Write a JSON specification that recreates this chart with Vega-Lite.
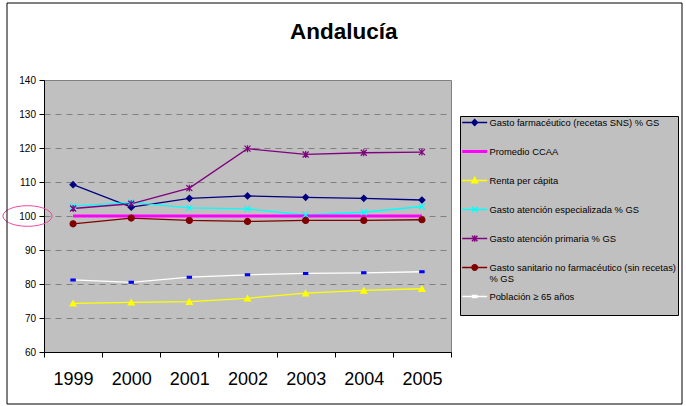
{
  "$schema": "https://vega.github.io/schema/vega-lite/v6.json",
  "autosize": {"type": "none"},
  "padding": {"left": 44, "top": 80, "right": 235, "bottom": 54},
  "width": 407,
  "height": 272,
  "background": "#FFFFFF",
  "config": {
    "font": "Liberation Sans",
    "view": {"fill": "#C0C0C0", "stroke": "#808080", "strokeWidth": 1}
  },
  "title": {
    "text": "Andalucía",
    "font": "Liberation Sans",
    "fontSize": 22.5,
    "fontWeight": "bold",
    "color": "#000000",
    "anchor": "middle",
    "frame": "bounds",
    "baseline": "alphabetic",
    "offset": -59,
    "dx": 2
  },
  "data": {
    "values": [
      {"series": "Gasto farmacéutico (recetas SNS) % GS", "year": "1999", "value": 109.2},
      {"series": "Gasto farmacéutico (recetas SNS) % GS", "year": "2000", "value": 102.6},
      {"series": "Gasto farmacéutico (recetas SNS) % GS", "year": "2001", "value": 105.2},
      {"series": "Gasto farmacéutico (recetas SNS) % GS", "year": "2002", "value": 105.9},
      {"series": "Gasto farmacéutico (recetas SNS) % GS", "year": "2003", "value": 105.5},
      {"series": "Gasto farmacéutico (recetas SNS) % GS", "year": "2004", "value": 105.2},
      {"series": "Gasto farmacéutico (recetas SNS) % GS", "year": "2005", "value": 104.7},
      {"series": "Promedio CCAA", "year": "1999", "value": 100},
      {"series": "Promedio CCAA", "year": "2000", "value": 100},
      {"series": "Promedio CCAA", "year": "2001", "value": 100},
      {"series": "Promedio CCAA", "year": "2002", "value": 100},
      {"series": "Promedio CCAA", "year": "2003", "value": 100},
      {"series": "Promedio CCAA", "year": "2004", "value": 100},
      {"series": "Promedio CCAA", "year": "2005", "value": 100},
      {"series": "Renta per cápita", "year": "1999", "value": 74.3},
      {"series": "Renta per cápita", "year": "2000", "value": 74.6},
      {"series": "Renta per cápita", "year": "2001", "value": 74.8},
      {"series": "Renta per cápita", "year": "2002", "value": 75.8},
      {"series": "Renta per cápita", "year": "2003", "value": 77.3},
      {"series": "Renta per cápita", "year": "2004", "value": 78.1},
      {"series": "Renta per cápita", "year": "2005", "value": 78.6},
      {"series": "Gasto atención especializada % GS", "year": "1999", "value": 102.9},
      {"series": "Gasto atención especializada % GS", "year": "2000", "value": 104.0},
      {"series": "Gasto atención especializada % GS", "year": "2001", "value": 102.4},
      {"series": "Gasto atención especializada % GS", "year": "2002", "value": 102.1},
      {"series": "Gasto atención especializada % GS", "year": "2003", "value": 100.3},
      {"series": "Gasto atención especializada % GS", "year": "2004", "value": 101.1},
      {"series": "Gasto atención especializada % GS", "year": "2005", "value": 102.8},
      {"series": "Gasto atención primaria % GS", "year": "1999", "value": 102.2},
      {"series": "Gasto atención primaria % GS", "year": "2000", "value": 103.6},
      {"series": "Gasto atención primaria % GS", "year": "2001", "value": 108.2},
      {"series": "Gasto atención primaria % GS", "year": "2002", "value": 119.8},
      {"series": "Gasto atención primaria % GS", "year": "2003", "value": 118.1},
      {"series": "Gasto atención primaria % GS", "year": "2004", "value": 118.6},
      {"series": "Gasto atención primaria % GS", "year": "2005", "value": 118.8},
      {"series": "Gasto sanitario no farmacéutico (sin recetas) % GS", "year": "1999", "value": 97.7},
      {"series": "Gasto sanitario no farmacéutico (sin recetas) % GS", "year": "2000", "value": 99.4},
      {"series": "Gasto sanitario no farmacéutico (sin recetas) % GS", "year": "2001", "value": 98.7},
      {"series": "Gasto sanitario no farmacéutico (sin recetas) % GS", "year": "2002", "value": 98.4},
      {"series": "Gasto sanitario no farmacéutico (sin recetas) % GS", "year": "2003", "value": 98.7},
      {"series": "Gasto sanitario no farmacéutico (sin recetas) % GS", "year": "2004", "value": 98.7},
      {"series": "Gasto sanitario no farmacéutico (sin recetas) % GS", "year": "2005", "value": 98.9},
      {"series": "Población ≥ 65 años", "year": "1999", "value": 81.2},
      {"series": "Población ≥ 65 años", "year": "2000", "value": 80.5},
      {"series": "Población ≥ 65 años", "year": "2001", "value": 82.0},
      {"series": "Población ≥ 65 años", "year": "2002", "value": 82.7},
      {"series": "Población ≥ 65 años", "year": "2003", "value": 83.1},
      {"series": "Población ≥ 65 años", "year": "2004", "value": 83.3},
      {"series": "Población ≥ 65 años", "year": "2005", "value": 83.6}
    ]
  },
  "encoding": {
    "x": {
      "field": "year",
      "type": "ordinal",
      "title": null,
      "scale": {"type": "band", "paddingInner": 0, "paddingOuter": 0},
      "axis": {
        "labelAngle": 0,
        "labelFontSize": 18,
        "labelColor": "#000000",
        "labelPadding": 13,
        "tickBand": "extent",
        "tickSize": 5,
        "tickColor": "#000000",
        "domainColor": "#000000",
        "grid": false
      }
    },
    "y": {
      "field": "value",
      "type": "quantitative",
      "title": null,
      "scale": {"domain": [60, 140], "nice": false, "zero": false},
      "axis": {
        "values": [60, 70, 80, 90, 100, 110, 120, 130, 140],
        "labelFontSize": 10,
        "labelColor": "#000000",
        "labelPadding": 3.5,
        "tickSize": 5,
        "tickColor": "#000000",
        "domainColor": "#000000",
        "grid": true,
        "gridColor": "#808080",
        "gridDash": [6, 5],
        "gridOpacity": 1
      }
    }
  },
  "layer": [
    {
      "transform": [{"filter": "datum.series !== 'Promedio CCAA'"}],
      "mark": {"type": "line", "strokeWidth": 1.3},
      "encoding": {
        "color": {
          "field": "series",
          "type": "nominal",
          "scale": {
            "domain": ["Gasto farmacéutico (recetas SNS) % GS", "Promedio CCAA", "Renta per cápita", "Gasto atención especializada % GS", "Gasto atención primaria % GS", "Gasto sanitario no farmacéutico (sin recetas) % GS", "Población ≥ 65 años"],
            "range": ["#000080", "#FF00FF", "#FFFF00", "#00FFFF", "#800080", "#800000", "#FFFFFF"]
          },
          "legend": {
            "title": null,
            "orient": "none",
            "legendX": 416,
            "legendY": 36,
            "padding": 2,
            "fillColor": "#C0C0C0",
            "strokeColor": "#000000",
            "labelFont": "Liberation Sans",
            "labelFontSize": 9.4,
            "labelColor": "#000000",
            "labelLimit": 300,
            "labelOffset": 10,
            "symbolOffset": 8,
            "symbolSize": 100,
            "clipHeight": 9,
            "rowPadding": 7,
            "labelExpr": "datum.label == 'Gasto sanitario no farmacéutico (sin recetas) % GS' ? ['Gasto sanitario no farmacéutico (sin recetas)', '% GS'] : [datum.label, '']",
            "encode": {
              "symbols": {
                "update": {
                  "shape": {"signal": "datum.value == 'Gasto farmacéutico (recetas SNS) % GS' ? 'M-2.5,0L2.5,0M0,-0.6L0.6,0L0,0.6L-0.6,0Z' : datum.value == 'Promedio CCAA' ? 'M-2.5,0L2.5,0' : datum.value == 'Renta per cápita' ? 'M-2.5,0L2.5,0M0,-0.65L0.6,0.45L-0.6,0.45Z' : datum.value == 'Gasto atención especializada % GS' ? 'M-2.5,0L2.5,0M-0.55,-0.55L0.55,0.55M-0.55,0.55L0.55,-0.55' : datum.value == 'Gasto atención primaria % GS' ? 'M-2.5,0L2.5,0M-0.55,-0.55L0.55,0.55M-0.55,0.55L0.55,-0.55M0,-0.65L0,0.65' : datum.value == 'Población ≥ 65 años' ? 'M-2.5,0L2.5,0M-0.45,-0.22L0.45,-0.22L0.45,0.22L-0.45,0.22Z' : 'M-2.5,0L2.5,0M-0.55,0C-0.55,0.3 -0.3,0.55 0,0.55C0.3,0.55 0.55,0.3 0.55,0C0.55,-0.3 0.3,-0.55 0,-0.55C-0.3,-0.55 -0.55,-0.3 -0.55,0Z'"},
                  "fill": {"signal": "datum.value == 'Gasto farmacéutico (recetas SNS) % GS' ? '#000080' : datum.value == 'Promedio CCAA' ? '#FF00FF' : datum.value == 'Renta per cápita' ? '#FFFF00' : datum.value == 'Gasto atención especializada % GS' ? '#00FFFF' : datum.value == 'Gasto atención primaria % GS' ? '#800080' : datum.value == 'Población ≥ 65 años' ? '#0000FF' : '#800000'"},
                  "stroke": {"signal": "datum.value == 'Gasto farmacéutico (recetas SNS) % GS' ? '#2A2A8A' : datum.value == 'Promedio CCAA' ? '#FF00FF' : datum.value == 'Renta per cápita' ? '#FFFF00' : datum.value == 'Gasto atención especializada % GS' ? '#00FFFF' : datum.value == 'Gasto atención primaria % GS' ? '#800080' : datum.value == 'Población ≥ 65 años' ? '#FFFFFF' : '#8A2A2A'"},
                  "strokeWidth": {"signal": "datum.value == 'Promedio CCAA' ? 3 : 1.3"},
                  "opacity": {"value": 1},
                  "fillOpacity": {"value": 1},
                  "strokeOpacity": {"value": 1}
                }
              }
            }
          }
        }
      }
    },
    {
      "transform": [{"filter": "datum.series === 'Promedio CCAA'"}],
      "mark": {"type": "line", "strokeWidth": 3},
      "encoding": {
        "color": {"field": "series", "type": "nominal"}
      }
    },
    {
      "transform": [{"filter": "datum.series !== 'Promedio CCAA'"}],
      "mark": {"type": "point", "opacity": 1, "size": 36, "strokeWidth": 1.2, "filled": true},
      "encoding": {
        "shape": {
          "field": "series",
          "type": "nominal",
          "legend": null,
          "scale": {
            "domain": ["Gasto farmacéutico (recetas SNS) % GS", "Renta per cápita", "Gasto atención especializada % GS", "Gasto atención primaria % GS", "Gasto sanitario no farmacéutico (sin recetas) % GS", "Población ≥ 65 años"],
            "range": ["diamond", "triangle-up", "M-1,-1L1,1M-1,1L1,-1", "M-1,-1L1,1M-1,1L1,-1M0,-1.15L0,1.15", "circle", "M-0.7,-0.3L0.7,-0.3L0.7,0.3L-0.7,0.3Z"]
          }
        },
        "fill": {
          "field": "series",
          "type": "nominal",
          "legend": null,
          "scale": {
            "domain": ["Gasto farmacéutico (recetas SNS) % GS", "Renta per cápita", "Gasto atención especializada % GS", "Gasto atención primaria % GS", "Gasto sanitario no farmacéutico (sin recetas) % GS", "Población ≥ 65 años"],
            "range": ["#000080", "#FFFF00", "#00FFFF", "#800080", "#800000", "#0000FF"]
          }
        },
        "stroke": {
          "field": "series",
          "type": "nominal",
          "legend": null,
          "scale": {
            "domain": ["Gasto farmacéutico (recetas SNS) % GS", "Renta per cápita", "Gasto atención especializada % GS", "Gasto atención primaria % GS", "Gasto sanitario no farmacéutico (sin recetas) % GS", "Población ≥ 65 años"],
            "range": ["#000080", "#FFFF00", "#00FFFF", "#800080", "#800000", "#0000FF"]
          }
        }
      }
    },
    {
      "data": {"values": [{"annotation": "100", "value": 100}]},
      "mark": {"type": "point", "size": 2401, "fill": "transparent", "stroke": "#F0459C", "strokeWidth": 1, "opacity": 1, "strokeOpacity": 1},
      "encoding": {
        "x": {"value": -16.5},
        "shape": {"value": "M1,0C1,0.232 0.552,0.42 0,0.42C-0.552,0.42 -1,0.232 -1,0C-1,-0.232 -0.552,-0.42 0,-0.42C0.552,-0.42 1,-0.232 1,0Z"}
      }
    },
    {
      "data": {"values": [{"annotation": "frame"}]},
      "mark": {"type": "rect", "fill": null, "fillOpacity": 0, "stroke": "#000000", "strokeWidth": 1},
      "encoding": {
        "x": {"value": -37},
        "x2": {"value": 638},
        "y": {"value": -77},
        "y2": {"value": 324}
      }
    }
  ]
}
